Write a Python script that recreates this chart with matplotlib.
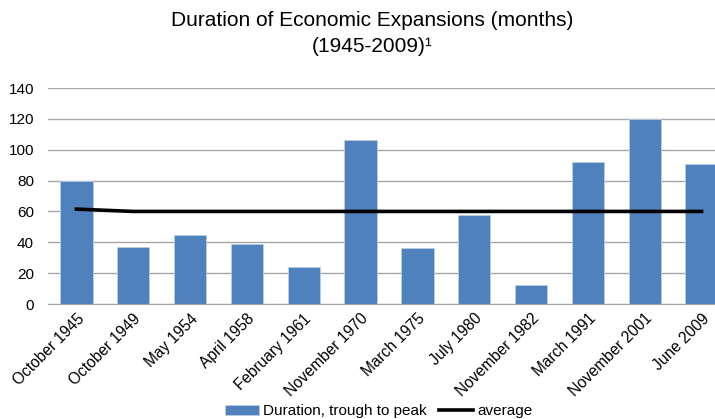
import matplotlib
matplotlib.use("Agg")
import matplotlib.pyplot as plt
import numpy as np

categories = ["October 1945", "October 1949", "May 1954", "April 1958", "February 1961",
              "November 1970", "March 1975", "July 1980", "November 1982", "March 1991",
              "November 2001", "June 2009"]
duration = [80, 37, 45, 39, 24, 106, 36, 58, 12, 92, 120, 91]
average = [61.5, 60, 60, 60, 60, 60, 60, 60, 60, 60, 60, 60]
yticks = [0, 20, 40, 60, 80, 100, 120, 140]

plt.rcParams['font.family'] = ['Liberation Sans', 'DejaVu Sans']

def main():
	fig = plt.figure(figsize=(7.15, 4.19), dpi=100)
	ax = fig.add_axes([48/715, 115/419, 682/715, 216/419])
	x = np.arange(len(categories))

	bars = ax.bar(x, duration, width=0.57, color="#4F81BD", edgecolor="#B9CDE5", linewidth=0.6,
	              label="Duration, trough to peak", zorder=2)
	line, = ax.plot(x, average, color="black", linewidth=2.6, label="average", zorder=3)

	ax.set_xlim(-0.5, len(categories) - 0.5)
	ax.set_ylim(0, 140)
	ax.set_yticks(yticks)
	ax.yaxis.grid(True, color="#A6A6A6", linewidth=1, zorder=0)
	ax.set_axisbelow(True)
	for s in ["top", "right", "left"]:
		ax.spines[s].set_visible(False)
	ax.spines["bottom"].set_color("#A6A6A6")
	ax.tick_params(axis="y", length=0, labelsize=11, pad=10)
	ax.tick_params(axis="x", length=0, labelsize=11.2, pad=5)
	ax.set_xticks(x)
	ax.set_xticklabels(categories, rotation=45, ha="right", rotation_mode="anchor")

	fig.text(0.52, 0.950, "Duration of Economic Expansions (months)", ha="center", va="center", fontsize=15)
	fig.text(0.52, 0.890, "(1945-2009)\u00b9", ha="center", va="center", fontsize=15)

	fig.legend([bars, line], ["Duration, trough to peak", "average"],
	           loc="center", bbox_to_anchor=(0.53, 0.018), ncol=2, frameon=False,
	           fontsize=11, handlelength=2.2, handleheight=0.6, columnspacing=0.8,
	           handletextpad=0.3, borderaxespad=0)

	fig.savefig("out.png", dpi=100)

if __name__ == "__main__":
	main()
